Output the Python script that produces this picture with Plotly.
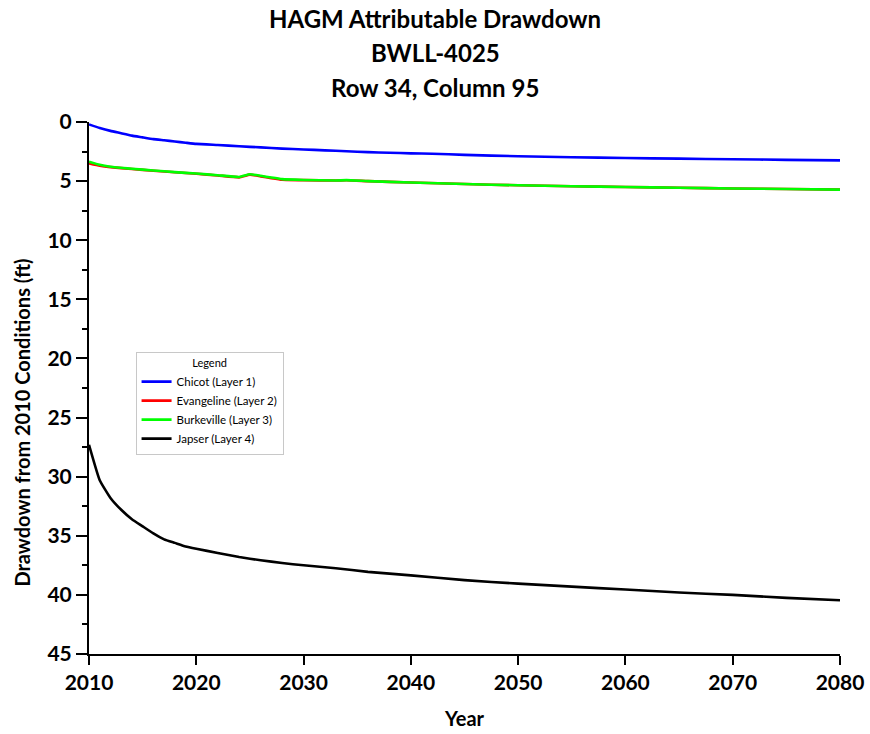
import plotly.graph_objects as go

# Drawdown (ft) relative to 2010 conditions, by aquifer layer
chicot_years = [2010, 2011, 2012, 2013, 2014, 2015, 2016, 2017, 2018, 2019, 2020, 2022, 2024,
                2026, 2028, 2030, 2032, 2034, 2036, 2038, 2040, 2042, 2045, 2050, 2055, 2060,
                2065, 2070, 2075, 2080]
chicot = [0.2, 0.5, 0.75, 0.95, 1.15, 1.3, 1.45, 1.55, 1.65, 1.75, 1.85, 1.95, 2.05,
          2.15, 2.25, 2.32, 2.4, 2.47, 2.55, 2.6, 2.65, 2.68, 2.78, 2.9, 2.98, 3.05,
          3.1, 3.15, 3.2, 3.25]

layer23_years = [2010, 2011, 2012, 2014, 2016, 2018, 2020, 2022, 2024, 2025, 2026, 2027, 2028,
                 2030, 2033, 2034, 2036, 2040, 2045, 2050, 2055, 2060, 2065, 2070, 2075, 2080]
evangeline = [3.5, 3.7, 3.82, 3.98, 4.12, 4.25, 4.38, 4.52, 4.68, 4.45, 4.6, 4.75, 4.88,
              4.92, 4.95, 4.93, 5.0, 5.12, 5.25, 5.35, 5.43, 5.5, 5.56, 5.62, 5.67, 5.72]
burkeville = [3.36, 3.62, 3.78, 3.95, 4.1, 4.24, 4.36, 4.5, 4.65, 4.42, 4.55, 4.7, 4.83,
              4.9, 4.95, 4.92, 5.0, 5.12, 5.25, 5.35, 5.43, 5.5, 5.56, 5.62, 5.67, 5.72]

japser_years = [2010, 2011, 2012, 2013, 2014, 2015, 2016, 2017, 2018, 2019, 2020, 2022, 2024,
                2026, 2028, 2030, 2033, 2036, 2040, 2045, 2050, 2055, 2060, 2065, 2070, 2075,
                2080]
japser = [27.3, 30.3, 31.8, 32.8, 33.6, 34.2, 34.8, 35.3, 35.6, 35.9, 36.1, 36.45, 36.8,
          37.07, 37.3, 37.5, 37.75, 38.05, 38.35, 38.75, 39.05, 39.3, 39.55, 39.8, 40.0,
          40.25, 40.45]

x_ticks = [2010, 2020, 2030, 2040, 2050, 2060, 2070, 2080]
y_ticks = [0, 5, 10, 15, 20, 25, 30, 35, 40, 45]

title_lines = ["HAGM Attributable Drawdown", "BWLL-4025", "Row 34, Column 95"]

FONT = "Lato, 'Open Sans', sans-serif"
W, H = 870, 734
M_L, M_R, M_T, M_B = 89, 30, 122, 80

fig = go.Figure()
series = [
    ("Chicot (Layer 1)", chicot_years, chicot, "#0000FF"),
    ("Evangeline (Layer 2)", layer23_years, evangeline, "#FF0000"),
    ("Burkeville (Layer 3)", layer23_years, burkeville, "#00FF00"),
    ("Japser (Layer 4)", japser_years, japser, "#000000"),
]
for name, xs, ys, color in series:
    fig.add_trace(go.Scatter(x=xs, y=ys, name=name, mode="lines",
                             line=dict(color=color, width=2.6, shape="spline", smoothing=0.4)))

axis_common = dict(
    showline=True, linecolor="black", linewidth=2, mirror=False, automargin=False,
    showgrid=False, zeroline=False, ticks="outside", tickcolor="black",
    tickwidth=2, tickfont=dict(family=FONT, size=21, color="black", weight="bold"),
)

fig.update_xaxes(range=[2010, 2080], tickvals=x_ticks, ticklen=9, **axis_common,
                 title=dict(text="Year", font=dict(family=FONT, size=20, color="black",
                                                   weight="bold"), standoff=19))
fig.update_yaxes(range=[45, 0], tickvals=y_ticks, ticklen=11, **axis_common,
                 minor=dict(dtick=2.5, ticks="outside", ticklen=5, tickwidth=2,
                            tickcolor="black", showgrid=False))

# centre the three title lines on the page rather than on the plot area
page_centre = (W / 2 - M_L) / (W - M_L - M_R)
for i, line in enumerate(title_lines):
    fig.add_annotation(text=line, xref="paper", yref="paper", x=page_centre,
                       xanchor="center", y=1, yanchor="middle", yshift=104 - 34.5 * i,
                       showarrow=False,
                       font=dict(family=FONT, size=24, color="black", weight="bold"))

fig.add_annotation(text="Drawdown from 2010 Conditions (ft)", xref="paper", yref="paper",
                   x=0, xshift=-67, y=0.435, textangle=-90, showarrow=False,
                   xanchor="center", yanchor="middle",
                   font=dict(family=FONT, size=20, color="black", weight="bold"))

fig.update_layout(
    width=W, height=H,
    margin=dict(l=M_L, r=M_R, t=M_T, b=M_B, autoexpand=False),
    plot_bgcolor="white", paper_bgcolor="white",
    font=dict(family=FONT, color="black"),
    legend=dict(
        title=dict(text="Legend", side="top center", font=dict(family=FONT, size=11)),
        x=0.062, y=0.568, xanchor="left", yanchor="top",
        bgcolor="white", bordercolor="#c8c8c8", borderwidth=1,
        font=dict(family=FONT, size=11.5, color="black"),
        itemwidth=30, tracegroupgap=0,
    ),
)

fig.write_html("out.html")
